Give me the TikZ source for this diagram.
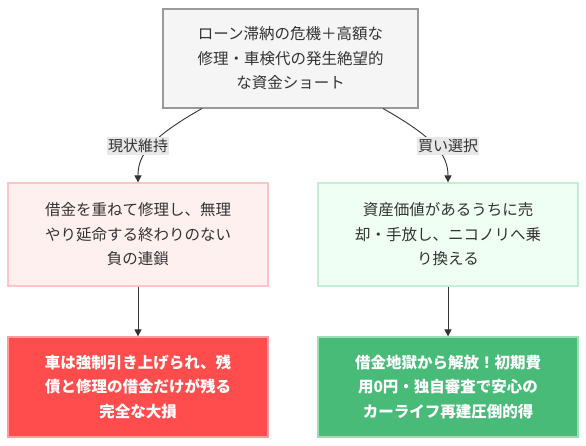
\documentclass[tikz,border=0pt]{standalone}
\usepackage{fontspec}
\setmainfont{Noto Sans CJK JP}
\usetikzlibrary{arrows.meta}
\definecolor{txt}{HTML}{333333}
\definecolor{topfill}{HTML}{F5F5F5}
\definecolor{topdraw}{HTML}{999999}
\definecolor{pinkfill}{HTML}{FFF0F0}
\definecolor{pinkdraw}{HTML}{FFC4C4}
\definecolor{mintfill}{HTML}{F0FFF4}
\definecolor{mintdraw}{HTML}{C2F0D2}
\definecolor{redfill}{HTML}{FF4D4D}
\definecolor{reddraw}{HTML}{FF9C9C}
\definecolor{grnfill}{HTML}{48BB78}
\definecolor{grndraw}{HTML}{9AE0B4}
\definecolor{labbg}{HTML}{E8E8E8}
\tikzset{
  box/.style={draw, line width=1.2pt, minimum width=#1, align=center, inner sep=0pt,
    font=\fontsize{15.5}{24.5}\selectfont, text=txt},
  topbox/.style={box=255pt, minimum height=99pt, fill=topfill, draw=topdraw},
  pinkbox/.style={box=260pt, minimum height=103pt, fill=pinkfill, draw=pinkdraw},
  mintbox/.style={box=260pt, minimum height=103pt, fill=mintfill, draw=mintdraw},
  redbox/.style={box=260pt, minimum height=100pt, fill=redfill, draw=reddraw, text=white, font=\fontsize{15.5}{24.5}\selectfont\bfseries},
  grnbox/.style={box=260pt, minimum height=100pt, fill=grnfill, draw=grndraw, text=white, font=\fontsize{15.5}{24.5}\selectfont\bfseries},
  elabel/.style={fill=labbg, text=txt, inner xsep=1pt, inner ysep=2pt, font=\fontsize{15}{18}\selectfont},
  conn/.style={draw=txt, line width=0.9pt, -{Triangle[length=7pt,width=7pt]}},
}
\begin{document}
\begin{tikzpicture}[x=1pt,y=-1pt]
\useasboundingbox[fill=white] (0,0) rectangle (586,446);
\node[topbox] (top) at (290.5,58.5) {ローン滞納の危機＋高額な\\修理・車検代の発生絶望的\\な資金ショート};
\node[pinkbox] (left) at (138,234.5) {借金を重ねて修理し、無理\\やり延命する終わりのない\\負の連鎖};
\node[mintbox] (right) at (448,234.5) {資産価値があるうちに売\\却・手放し、ニコノリへ乗\\り換える};
\node[redbox] (bl) at (138,387) {車は強制引き上げられ、残\\債と修理の借金だけが残る\\完全な大損};
\node[grnbox] (br) at (448,387) {借金地獄から解放！初期費\\用0円・独自審査で安心の\\カーライフ再建圧倒的得};
\coordinate (sl) at (202,108.5);
\coordinate (sr) at (383,108.5);
\path[conn] (sl) .. controls (150,138) and (138,155) .. (left.north);
\path[conn] (sr) .. controls (435,138) and (448,155) .. (right.north);
\node[elabel] (l1) at (138,146) {現状維持};
\node[elabel] (l2) at (448,146) {買い選択};
\path[conn] (left.south) -- (bl.north);
\path[conn] (right.south) -- (br.north);
\end{tikzpicture}
\end{document}
